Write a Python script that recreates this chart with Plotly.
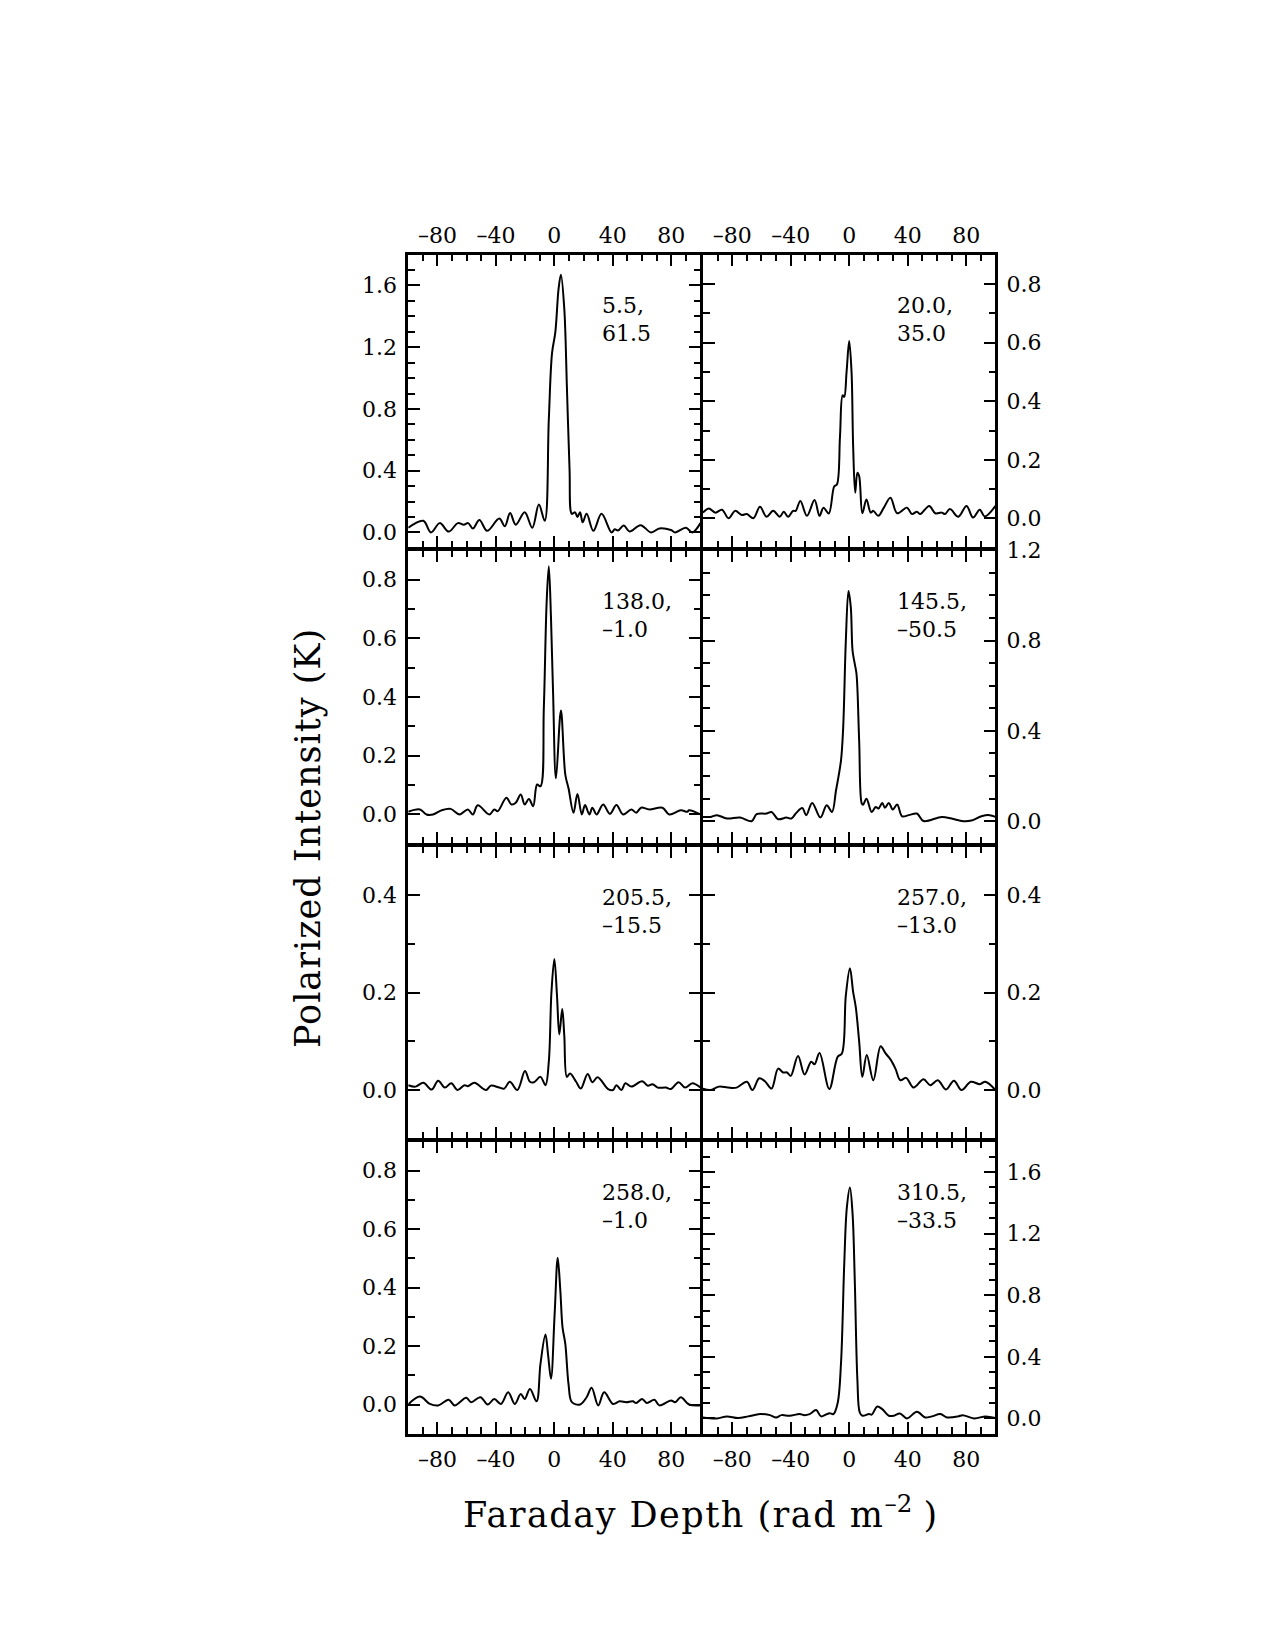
import plotly.graph_objects as go

# ---------------- data ----------------
p1_x = [-100, -89.7, -84.5, -78.4, -72.3, -66, -62, -59, -55.8, -51.3, -46, -37.7, -33.9, -30.3, -26.4,
        -20.3, -15.1, -10.6, -6.6, -3.8, -1.6, 0.7, 2.9, 4.5, 6.8, 8.6, 10.4, 12, 14.2, 15.8,
        17.6, 19.4, 22.1, 26.7, 32.3, 39.1, 41.4, 43.6, 47.5, 51.5, 59, 66.2, 71.9, 79.8, 82.7,
        90, 94.5, 100]
p1_y = [0.03, 0.075, 0.0, 0.06, 0.005, 0.06, 0.05, 0.06, 0.025, 0.08, 0.01, 0.09, 0.04, 0.125, 0.05,
        0.13, 0.03, 0.18, 0.075, 0.73, 1.16, 1.3, 1.58, 1.67, 1.45, 0.94, 0.41, 0.12, 0.13, 0.1,
        0.13, 0.065, 0.12, 0.01, 0.12, 0.0, 0.02, 0.012, 0.045, 0.006, 0.047, 0.0, 0.025, 0.015, 0.0,
        0.03, 0.0, 0.06]

p2_x = [-100, -96, -91.5, -87, -82.5, -78, -73.4, -70, -65.5, -61, -56.5, -52, -47.5, -44.7, -41.8,
        -38.4, -36.6, -33.4, -28.9, -23.7, -20.3, -17.6, -14, -10.2, -8.4, -6.3, -4.5, -3.4, -1.8, 0,
        1.6, 2.7, 4.1, 5.6, 6.8, 9, 11.8, 14.7, 16.5, 19.9, 23.7, 28.2, 32.8, 39.5, 42.9,
        46.3, 48.6, 54.7, 58.8, 63.3, 65.5, 68.9, 74.6, 80.2, 84.7, 89.3, 92.7, 100]
p2_y = [0.02, 0.034, 0.02, 0.03, 0.001, 0.026, 0.012, 0.015, 0.001, 0.04, 0.006, 0.026, 0.006, 0.023, 0.006,
        0.026, 0.026, 0.06, 0.009, 0.063, 0.009, 0.037, 0.017, 0.11, 0.116, 0.28, 0.42, 0.415, 0.5, 0.605,
        0.5, 0.246, 0.088, 0.156, 0.145, 0.018, 0.065, 0.02, 0.026, 0.009, 0.037, 0.071, 0.018, 0.037, 0.015,
        0.023, 0.015, 0.043, 0.018, 0.02, 0.015, 0.032, 0.006, 0.043, 0.003, 0.03, 0.007, 0.043]

p3_x = [-100, -92, -87.5, -83, -77.3, -71, -64.9, -59.2, -55.8, -52.4, -44.5, -41.1, -38.8, -32.8, -29.4,
        -26.4, -23, -20.3, -17.4, -14.5, -11.8, -9.5, -7.2, -5.3, -3.8, -2.3, -0.9, 1.1, 4.5, 7.5,
        9.7, 13.1, 15.8, 18.8, 21, 24, 26, 28.9, 33.4, 38, 42.5, 47, 52.7, 56, 59.4,
        65, 74, 78.6, 86.6, 91, 92.2, 100]
p3_y = [0.009, 0.017, 0, 0, 0.014, 0.019, 0, 0.017, 0, 0.031, 0, 0.017, 0.011, 0.057, 0.034,
        0.04, 0.068, 0.034, 0.053, 0.028, 0.102, 0.096, 0.363, 0.72, 0.846, 0.67, 0.42, 0.123, 0.354, 0.136,
        0.089, 0.006, 0.07, 0, 0.032, 0, 0.023, 0, 0.034, 0.002, 0.032, 0, 0.017, 0.006, 0.023,
        0.017, 0.023, 0, 0.014, 0.009, 0.014, 0]

p4_x = [-100, -95, -90.4, -83.6, -74.6, -66.7, -63.3, -56.5, -53.1, -48.6, -43, -39.5, -36.2, -32.1, -29.4,
        -25.3, -19.7, -15.4, -11.8, -9, -5.6, -4.1, -2.3, -0.5, 1.1, 2.3, 3.8, 5, 6.8, 8.6,
        9.5, 11.8, 15.4, 18.1, 20, 22.6, 24.4, 27.1, 29.8, 32.8, 36.2, 40.7, 46.3, 50.8, 63.3,
        70, 78, 83.6, 90.4, 96, 100]
p4_y = [0.019, 0.019, 0.027, 0.012, 0.016, 0.0, 0.031, 0.034, 0.041, 0.009, 0.016, 0.012, 0.037, 0.059, 0.027,
        0.081, 0.016, 0.071, 0.041, 0.137, 0.27, 0.417, 0.8, 1.02, 0.947, 0.755, 0.697, 0.652, 0.358, 0.078,
        0.073, 0.1, 0.041, 0.063, 0.056, 0.081, 0.06, 0.081, 0.052, 0.074, 0.022, 0.027, 0.034, 0.001, 0.019,
        0.012, 0, 0.003, 0.022, 0.027, 0.019]

p5_x = [-100, -95, -89.7, -84, -79.5, -75, -70.5, -66.4, -61.5, -59.2, -54.7, -46.8, -43.4, -37.7, -34.3,
        -30.5, -25.3, -20.1, -16.7, -14, -9.5, -6.1, -3.8, -2, 0, 1.8, 3.4, 5.4, 6.8, 8.6,
        10.8, 14.9, 18.1, 22.8, 26, 29.6, 36.8, 40.2, 42.5, 45.9, 48.6, 52.7, 60.1, 64, 67.3,
        70.7, 76.3, 79.8, 85, 89.5, 94.5, 100]
p5_y = [0.01, 0.007, 0.015, 0.001, 0.019, 0.005, 0.014, 0, 0.01, 0.008, 0.015, 0, 0.009, 0.005, 0.003,
        0.017, 0, 0.039, 0.017, 0.016, 0.027, 0.01, 0.058, 0.2, 0.269, 0.194, 0.114, 0.166, 0.112, 0.027,
        0.034, 0.017, 0.003, 0.033, 0.016, 0.026, 0.002, 0, 0.01, 0, 0.014, 0.007, 0.018, 0.009, 0.012,
        0.005, 0.005, 0.002, 0.016, 0.005, 0.014, 0.005]

p6_x = [-100, -95, -89, -83, -77, -70, -66.2, -61.5, -57.6, -53.1, -48.6, -45.2, -42.5, -40, -35,
        -30.5, -26, -23.7, -20.3, -13.6, -7.9, -5, -2.3, 0.5, 2.7, 4.5, 6.8, 9, 12, 16.5,
        21.5, 24.9, 28.2, 31.6, 35, 38.9, 44, 50.8, 55.4, 60.6, 66.2, 71.6, 76.8, 83.2, 89.3,
        93.1, 100]
p6_y = [0.003, 0, 0.007, 0.005, 0.005, 0.017, 0, 0.024, 0.018, 0.003, 0.044, 0.036, 0.036, 0.029, 0.07,
        0.032, 0.058, 0.053, 0.076, 0.002, 0.068, 0.075, 0.194, 0.25, 0.201, 0.17, 0.1, 0.027, 0.072, 0.02,
        0.09, 0.075, 0.063, 0.044, 0.02, 0.025, 0.005, 0.022, 0.01, 0.02, 0.001, 0.019, 0, 0.017, 0.012,
        0.017, 0]

p7_x = [-100, -92, -85.2, -79.5, -72.3, -68.2, -60.3, -57, -50.6, -45.6, -41.1, -36.6, -31.6, -27.1, -23,
        -20.3, -16.7, -12.2, -9.5, -6.1, -4.3, -2.3, 0.2, 2.3, 4.1, 5.6, 7.5, 9.7, 12, 17.6,
        22.1, 25.5, 30, 34.1, 40.2, 44.7, 49.2, 53.7, 56, 60.1, 63.3, 68.5, 71.9, 79.8, 82.7,
        86.6, 92.2, 100]
p7_y = [0, 0.027, 0.002, -0.003, 0.016, -0.003, 0.023, 0.008, 0.025, 0, 0.019, 0.002, 0.042, 0.002, 0.036,
        0.019, 0.053, 0.011, 0.139, 0.239, 0.17, 0.088, 0.31, 0.502, 0.389, 0.264, 0.207, 0.07, 0.008, 0,
        0.025, 0.057, -0.003, 0.042, 0.002, 0.011, 0.008, 0.011, 0.005, 0.019, 0.005, 0.016, -0.003, 0.014, 0.008,
        0.025, 0, -0.003]

p8_x = [-100, -90.4, -83.6, -76, -69, -61, -54.2, -50, -46.3, -40.7, -33.9, -30.5, -27.1, -22.6, -19.2,
        -13.6, -10.8, -7.9, -5.6, -3.4, -1.6, 0.5, 2.3, 3.8, 5.6, 7.2, 9, 13.6, 15.4, 19.2,
        22.6, 27.1, 30.5, 34.6, 39.5, 46.3, 52, 56.5, 62.4, 66.9, 74.6, 77.6, 85.4, 93.3, 100]
p8_y = [0.006, 0, 0.013, 0.002, 0.013, 0.028, 0.021, 0.006, 0.021, 0.017, 0.028, 0.021, 0.028, 0.054, 0.013,
        0.034, 0.028, 0.1, 0.36, 1.0, 1.37, 1.5, 1.33, 0.9, 0.25, 0.039, 0.017, 0.028, 0.024, 0.077,
        0.06, 0.017, 0.017, 0.032, 0, 0.043, 0.006, 0.013, 0.028, 0.006, 0.013, 0.021, 0, 0.013, 0.002]

panel_lon = ["5.5", "20.0", "138.0", "145.5", "205.5", "257.0", "258.0", "310.5"]
panel_lat = ["61.5", "35.0", "–1.0", "–50.5", "–15.5", "–13.0", "–1.0", "–33.5"]

y_ranges = [[-0.1, 1.8], [-0.1, 0.9], [-0.1, 0.9], [-0.1, 1.2],
            [-0.1, 0.5], [-0.1, 0.5], [-0.1, 0.9], [-0.1, 1.8]]
y_major = [0.4, 0.2, 0.2, 0.4, 0.2, 0.2, 0.2, 0.4]

x_tick_vals = [-80, -40, 0, 40, 80]
x_tick_text = ["–80", "–40", "0", "40", "80"]
x_minor_vals = [-100, -90, -70, -60, -50, -30, -20, -10, 10, 20, 30, 50, 60, 70, 90, 100]

x_title = '<span style="letter-spacing:1.5px">Faraday Depth (rad m</span><sup>–2</sup> )'
y_title = '<span style="letter-spacing:1px">Polarized Intensity (K)</span>'

series_x = [p1_x, p2_x, p3_x, p4_x, p5_x, p6_x, p7_x, p8_x]
series_y = [p1_y, p2_y, p3_y, p4_y, p5_y, p6_y, p7_y, p8_y]

# ---------------- layout ----------------
W, H = 1275, 1650
FONT = "DejaVu Serif"
LW = 2.5
TOP_OFF = 12  # page places the figure ~12px lower and then the shot is rescaled


def py(v):
    """Map a target picture y (px) to the figure's own y (px)."""
    return v * (H + TOP_OFF) / H - TOP_OFF


col_b = [407, 701.7, 996.7]            # column border positions (px)
row_b = [253.3, 549, 845, 1140, 1435]  # row border positions (target px)

fig = go.Figure()
layout = dict(width=W, height=H, margin=dict(l=0, r=0, t=0, b=0),
              paper_bgcolor="white", plot_bgcolor="white", showlegend=False,
              font=dict(family=FONT, size=22, color="black"))
annotations = []

for i in range(8):
    assert len(series_x[i]) == len(series_y[i]), i
    r, c = divmod(i, 2)
    n = i + 1
    xa = "x" if n == 1 else f"x{n}"
    ya = "y" if n == 1 else f"y{n}"
    fig.add_trace(go.Scatter(x=series_x[i], y=series_y[i], mode="lines",
                             line=dict(color="black", width=2, shape="spline", smoothing=1.0),
                             xaxis=xa, yaxis=ya, hoverinfo="skip"))
    x0, x1 = col_b[c] + LW / 2, col_b[c + 1] - LW / 2
    y0, y1 = py(row_b[r]) + LW / 2, py(row_b[r + 1]) - LW / 2
    show_x = r in (0, 3)
    layout[f"xaxis{n}"] = dict(
        domain=[x0 / W, x1 / W], anchor=ya, range=[-100, 100],
        tickmode="array", tickvals=x_tick_vals, ticktext=x_tick_text,
        ticks="inside", ticklen=12, tickwidth=1.5, tickcolor="black",
        minor=dict(tickmode="array", tickvals=x_minor_vals, ticks="inside",
                   ticklen=7, tickwidth=1.5, tickcolor="black", showgrid=False),
        showline=True, linewidth=LW, linecolor="black", mirror="allticks",
        showgrid=False, zeroline=False, side="top" if r == 0 else "bottom",
        showticklabels=show_x, tickfont=dict(family=FONT, size=22, color="black"),
        ticklabelstandoff=0 if r == 0 else 4)
    layout[f"yaxis{n}"] = dict(
        domain=[1 - y1 / H, 1 - y0 / H], anchor=xa, range=y_ranges[i],
        tickmode="linear", tick0=0, dtick=y_major[i], tickformat=".1f",
        ticks="inside", ticklen=12, tickwidth=1.5, tickcolor="black",
        minor=dict(dtick=0.1, tick0=0, ticks="inside", ticklen=7, tickwidth=1.5,
                   tickcolor="black", showgrid=False),
        showline=True, linewidth=LW, linecolor="black", mirror="allticks",
        showgrid=False, zeroline=False, side="left" if c == 0 else "right",
        tickfont=dict(family=FONT, size=22, color="black"), ticklabelstandoff=4)
    for k, txt in enumerate([panel_lon[i] + ",", panel_lat[i]]):
        ty = py(row_b[r] + 52 + 28 * k)
        annotations.append(dict(
            xref=f"{xa} domain", yref="paper",
            x=192 / (x1 - x0), y=1 - ty / H, xanchor="left", yanchor="middle",
            text=txt, showarrow=False, font=dict(family=FONT, size=22, color="black")))

annotations.append(dict(xref="paper", yref="paper", x=700 / W, y=1 - py(1512) / H,
                        xanchor="center", yanchor="middle", text=x_title, showarrow=False,
                        font=dict(family=FONT, size=35, color="black")))
annotations.append(dict(xref="paper", yref="paper", x=308 / W, y=1 - py(838) / H,
                        xanchor="center", yanchor="middle", text=y_title, showarrow=False,
                        textangle=-90, font=dict(family=FONT, size=35, color="black")))
layout["annotations"] = annotations
fig.update_layout(**layout)
fig.write_html("out.html")
